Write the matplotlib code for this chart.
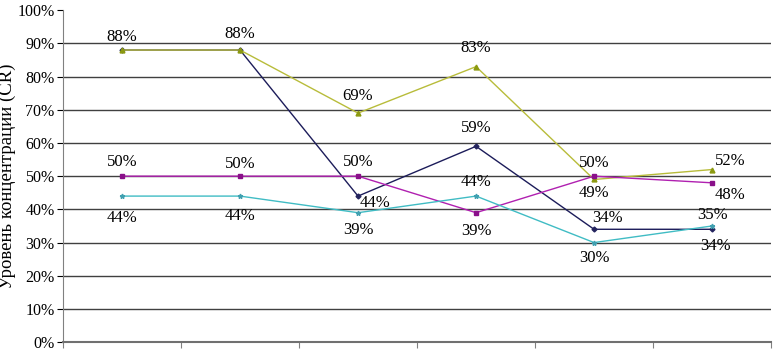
import matplotlib
matplotlib.use("Agg")
import matplotlib.pyplot as plt
from matplotlib.ticker import FuncFormatter

# data (percent)
periods = [1, 2, 3, 4, 5, 6]
navy_vals = [88, 88, 44, 59, 34, 34]
olive_vals = [88, 88, 69, 83, 49, 52]
magenta_vals = [50, 50, 50, 39, 50, 48]
cyan_vals = [44, 44, 39, 44, 30, 35]
y_ticks = list(range(0, 101, 10))
y_label = "Уровень концентрации (CR)"

plt.rcParams['font.family'] = ['Liberation Serif', 'DejaVu Serif']

fig = plt.figure(figsize=(7.73, 3.52), dpi=100)
ax = fig.add_axes([0.0815, 0.028, 0.916, 0.943])

# label offsets in pixels for each point (dx, dy); None = no label
series = [
    (navy_vals, "#1c1c5a", "#24245e", "D", 2.5,
     [None, None, (17, -7), (0, 18), (13, 11), (3, -17)]),
    (olive_vals, "#b8bc3a", "#8c9a10", "^", 3.5,
     [(0, 13), (0, 16), (0, 17), (0, 19), (0, -14), (18, 9)]),
    (magenta_vals, "#b020b0", "#8a108a", "s", 3.0,
     [(0, 14), (0, 12), (0, 14), (0, -18), (0, 13), (18, -12)]),
    (cyan_vals, "#40bcc4", "#40a0b0", "*", 3.5,
     [(0, -22), (0, -20), (0, -17), (0, 14), (0, -15), (0, 11)]),
]

for vals, lc, mc, mk, ms, offs in series:
    ax.plot(periods, vals, color=lc, lw=1.0, marker=mk, markersize=ms,
            markerfacecolor=mc, markeredgecolor=mc, zorder=3)
    for x, v, off in zip(periods, vals, offs):
        if off is None:
            continue
        ax.annotate("%d%%" % v, (x, v), xytext=off, textcoords="offset pixels",
                    ha="center", va="center", fontsize=12, color="black", zorder=5)

ax.set_xlim(0.5, 6.5)
ax.set_ylim(0, 100)
ax.set_yticks(y_ticks)
ax.yaxis.set_major_formatter(FuncFormatter(lambda v, p: "%d%%" % v))
ax.set_xticks([0.5 + i for i in range(7)])
ax.set_xticklabels([])
ax.tick_params(axis="x", direction="out", length=4, color="#808080")
ax.tick_params(axis="y", direction="out", length=4, labelsize=11.5, pad=2)
ax.grid(axis="y", color="#404040", lw=1.0)
ax.set_axisbelow(True)
# no gridline along the top edge
ax.get_ygridlines()[-1].set_visible(False)

for s in ["top", "right"]:
    ax.spines[s].set_visible(False)
ax.spines["left"].set_color("#808080")
ax.spines["bottom"].set_color("#707070")
ax.spines["bottom"].set_linewidth(1.5)

ax.set_ylabel(y_label, fontsize=13.5, labelpad=1)

fig.savefig("out.png", dpi=100)
